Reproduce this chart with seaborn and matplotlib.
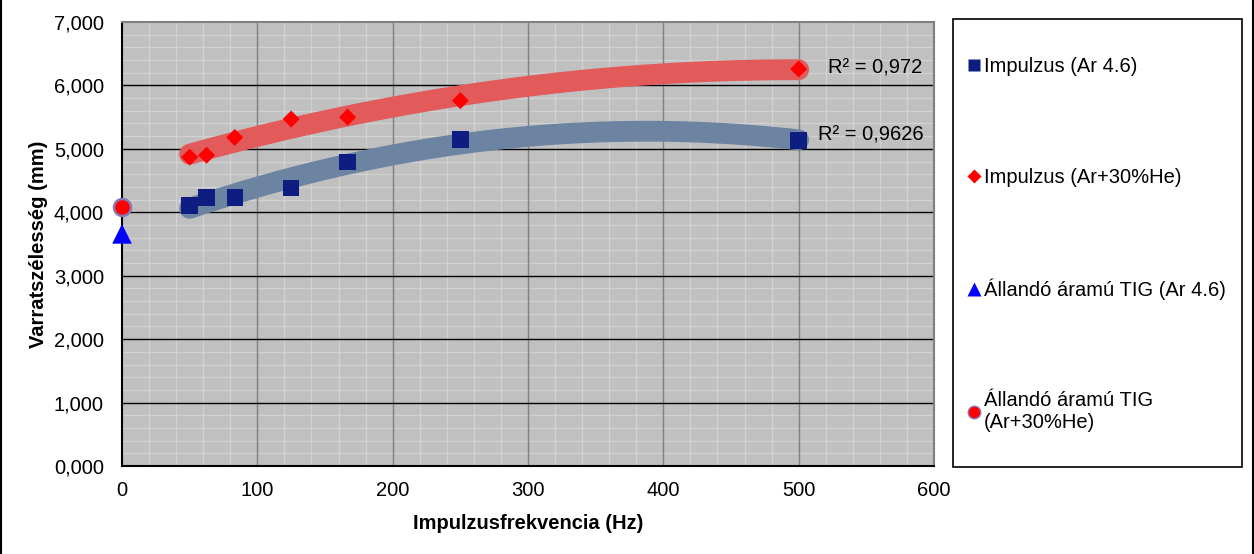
import numpy as np
import pandas as pd
import matplotlib
matplotlib.use("Agg")
import matplotlib.pyplot as plt
from matplotlib.lines import Line2D
from matplotlib.patches import Rectangle
from matplotlib.ticker import FuncFormatter, MultipleLocator
import seaborn as sns

# ---- data ----
freq = [50, 62.5, 83.3, 125, 166.7, 250, 500]
width_ar = [4.11, 4.23, 4.23, 4.38, 4.79, 5.15, 5.13]
width_arhe = [4.87, 4.90, 5.18, 5.47, 5.50, 5.76, 6.26]
const_freq = [0]
const_ar = [3.66]
const_arhe = [4.09]
labels = ["Impulzus (Ar 4.6)", "Impulzus (Ar+30%He)",
          "Állandó áramú TIG (Ar 4.6)", "Állandó áramú TIG\n(Ar+30%He)"]
r2_labels = ["R² = 0,9626", "R² = 0,972"]
x_label = "Impulzusfrekvencia (Hz)"
y_label = "Varratszélesség (mm)"

df = pd.DataFrame({"f": freq, "ar": width_ar, "arhe": width_arhe})

sns.set_theme(style="white")
plt.rcParams["font.family"] = ["Liberation Sans", "DejaVu Sans"]
plt.rcParams["text.color"] = "black"
plt.rcParams["axes.labelcolor"] = "black"
plt.rcParams["xtick.color"] = "black"
plt.rcParams["ytick.color"] = "black"
FS = 14.5

fig = plt.figure(figsize=(12.54, 5.54), dpi=100)
ax = fig.add_axes([122/1254, 88/554, (934-122)/1254, (466-22)/554])
ax.set_facecolor("#C0C0C0")

# trendlines (2nd-order polynomial)
sns.regplot(data=df, x="f", y="arhe", order=2, ci=None, scatter=False, ax=ax,
            line_kws=dict(color="#E25A5A", lw=15, solid_capstyle="round", zorder=3))
sns.regplot(data=df, x="f", y="ar", order=2, ci=None, scatter=False, ax=ax,
            line_kws=dict(color="#6C84A2", lw=15, solid_capstyle="round", zorder=3))

# points
sns.scatterplot(x=freq, y=width_ar, marker="s", s=140, color="#0D1D82",
                edgecolor="none", ax=ax, zorder=4)
sns.scatterplot(x=freq, y=width_arhe, marker="D", s=75, color="#FF0000",
                edgecolor="none", ax=ax, zorder=4)
sns.scatterplot(x=const_freq, y=const_ar, marker="^", s=200, color="#0000FF",
                edgecolor="none", ax=ax, zorder=5, clip_on=False)
sns.scatterplot(x=const_freq, y=const_arhe, marker="o", s=150, color="#FF0000",
                edgecolor="#8877B8", linewidth=1.8, ax=ax, zorder=5, clip_on=False)

ax.text(522, 6.28, r2_labels[1], fontsize=FS, va="center", ha="left", zorder=6)
ax.text(514, 5.22, r2_labels[0], fontsize=FS, va="center", ha="left", zorder=6)

ax.set_xlim(0, 600)
ax.set_ylim(0, 7)
ax.xaxis.set_major_locator(MultipleLocator(100))
ax.xaxis.set_minor_locator(MultipleLocator(20))
ax.yaxis.set_major_locator(MultipleLocator(1))
ax.yaxis.set_minor_locator(MultipleLocator(0.2))
ax.yaxis.set_major_formatter(FuncFormatter(lambda v, p: f"{v:.3f}".replace(".", ",")))
ax.xaxis.set_major_formatter(FuncFormatter(lambda v, p: f"{v:.0f}"))

# minor grid underneath, major grid drawn as continuous lines on top of it
ax.grid(which="minor", color="#D2D2D2", lw=0.9, zorder=0)
ax.grid(which="major", visible=False)
for t in ax.get_xticks():
    if 0 < t < 600:
        ax.axvline(t, color="#808080", lw=1.0, zorder=1.5)
for t in ax.get_yticks():
    if 0 < t < 7:
        ax.axhline(t, color="black", lw=1.0, zorder=1.6)
ax.set_axisbelow(True)

ax.tick_params(axis="both", which="major", direction="out", length=5, width=1,
               color="black", labelcolor="black", labelsize=FS)
ax.tick_params(axis="y", which="major", pad=8)
ax.tick_params(axis="x", which="major", pad=6)
ax.tick_params(axis="both", which="minor", length=0)
for s in ["left", "bottom"]:
    ax.spines[s].set_color("black")
    ax.spines[s].set_linewidth(1.5)
for s in ["top", "right"]:
    ax.spines[s].set_color("#808080")
    ax.spines[s].set_linewidth(1.5)

ax.set_xlabel(x_label, fontsize=FS, fontweight="bold", labelpad=10, color="black")
ax.set_ylabel(y_label, fontsize=FS, fontweight="bold", labelpad=4, color="black")

# legend box
fig.add_artist(Rectangle((953/1254, 1-467/554), (1242-953)/1254, (467-19)/554,
                         transform=fig.transFigure, facecolor="white",
                         edgecolor="black", lw=1.2))
handles = [
    Line2D([], [], ls="none", marker="s", ms=9, color="#0D1D82", mec="none"),
    Line2D([], [], ls="none", marker="D", ms=7, color="#FF0000", mec="none"),
    Line2D([], [], ls="none", marker="^", ms=10, color="#0000FF", mec="none"),
    Line2D([], [], ls="none", marker="o", ms=9, color="#FF0000", mec="#8877B8", mew=1),
]
leg = fig.legend(handles, labels, loc="upper left",
                 bbox_to_anchor=(968/1254, 1-57/554), frameon=False,
                 fontsize=FS, labelspacing=4.55, handlelength=0.6,
                 handletextpad=0.2, borderaxespad=0, borderpad=0,
                 labelcolor="black")

# figure border (left/right)
fig.add_artist(Line2D([0.8/1254, 0.8/1254], [0, 1], transform=fig.transFigure,
                      color="black", lw=1.5))
fig.add_artist(Line2D([1253/1254, 1253/1254], [0, 1], transform=fig.transFigure,
                      color="black", lw=1.5))

fig.savefig("out.png", dpi=100, facecolor="white")
